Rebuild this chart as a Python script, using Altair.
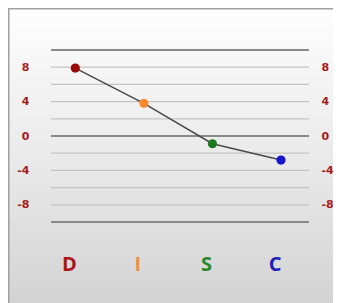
import altair as alt
import pandas as pd

categories = ["D", "I", "S", "C"]
values = [7.9, 3.8, -0.9, -2.8]
point_colors = ["#9b0a0a", "#ff8a2a", "#1e7a1e", "#1515d0"]
label_colors = ["#b01515", "#f0903a", "#2a8a2a", "#2020b8"]
y_ticks = list(range(-10, 11, 2))

df = pd.DataFrame({"cat": categories, "val": values})
grid_df = pd.DataFrame({"v": y_ticks})

W, H = 258, 172
PL, PT, PR, PB = 43, 42, 24, 81

xscale = alt.Scale(type="point", domain=categories, range=[24.3, 230], padding=0)
yscale = alt.Scale(domain=[-10, 10], nice=False, zero=False)

bg = alt.Chart(alt.Data(values=[{}])).mark_rect(
    color=alt.Gradient(
        gradient="linear",
        stops=[alt.GradientStop(color="#fefefe", offset=0),
               alt.GradientStop(color="#e9e9e9", offset=0.5),
               alt.GradientStop(color="#d0d0d0", offset=1)],
        x1=0, x2=0, y1=0, y2=1),
    stroke="#a0a0a0", strokeWidth=3,
).encode(
    x=alt.value(-PL), x2=alt.value(W + PR + 20),
    y=alt.value(-PT), y2=alt.value(H + PB + 20),
)

label_expr = "(abs(datum.value) <= 8 && datum.value % 4 == 0) ? '' + datum.value : ''"

left_axis = alt.Axis(
    orient="left", values=y_ticks, labelExpr=label_expr, ticks=False, domain=False,
    grid=False, zindex=1,
    labelColor="#a51c1c", labelFont="DejaVu Sans", labelFontSize=11,
    labelFontWeight="bold", labelPadding=22, title=None,
)
right_axis = alt.Axis(
    orient="right", values=y_ticks, labelExpr=label_expr, ticks=False, domain=False,
    grid=False, zindex=1, labelColor="#a51c1c", labelFont="DejaVu Sans", labelFontSize=11,
    labelFontWeight="bold", labelPadding=12, labelAlign="left", title=None,
)

grid = alt.Chart(grid_df).mark_rule().encode(
    y=alt.Y("v:Q", scale=yscale, axis=left_axis),
    x=alt.value(0), x2=alt.value(W),
    strokeWidth=alt.condition("datum.v % 10 == 0", alt.value(2), alt.value(1.2)),
    color=alt.condition("datum.v % 10 == 0", alt.value("#8a8a8a"), alt.value("#c4c4c4")),
)

base = alt.Chart(df)

line = base.mark_line(color="#4a4a4a", strokeWidth=1.5).encode(
    x=alt.X("cat:N", scale=xscale, axis=None, sort=categories),
    y=alt.Y("val:Q", scale=yscale, axis=None),
)

pts = base.mark_point(filled=True, size=85, opacity=1).encode(
    x=alt.X("cat:N", scale=xscale, axis=None, sort=categories),
    y=alt.Y("val:Q", scale=yscale, axis=right_axis),
    color=alt.Color("cat:N", scale=alt.Scale(domain=categories, range=point_colors), legend=None),
)

labels = base.mark_text(font="Open Sans", fontSize=20, fontWeight="bold",
                        baseline="middle", dx=-6).encode(
    x=alt.X("cat:N", scale=xscale, axis=None, sort=categories),
    y=alt.value(215),
    text="cat:N",
    color=alt.Color("cat:N", scale=alt.Scale(domain=categories, range=label_colors), legend=None),
)

chart = alt.layer(bg, grid, line, pts, labels).resolve_axis(y="independent").resolve_scale(color="independent").properties(
    width=W, height=H,
    autosize=alt.AutoSizeParams(type="none"),
    padding={"left": PL, "top": PT, "right": PR, "bottom": PB},
).configure_view(stroke=None)

chart.save("out.html", embed_options={"renderer": "svg", "actions": False})
